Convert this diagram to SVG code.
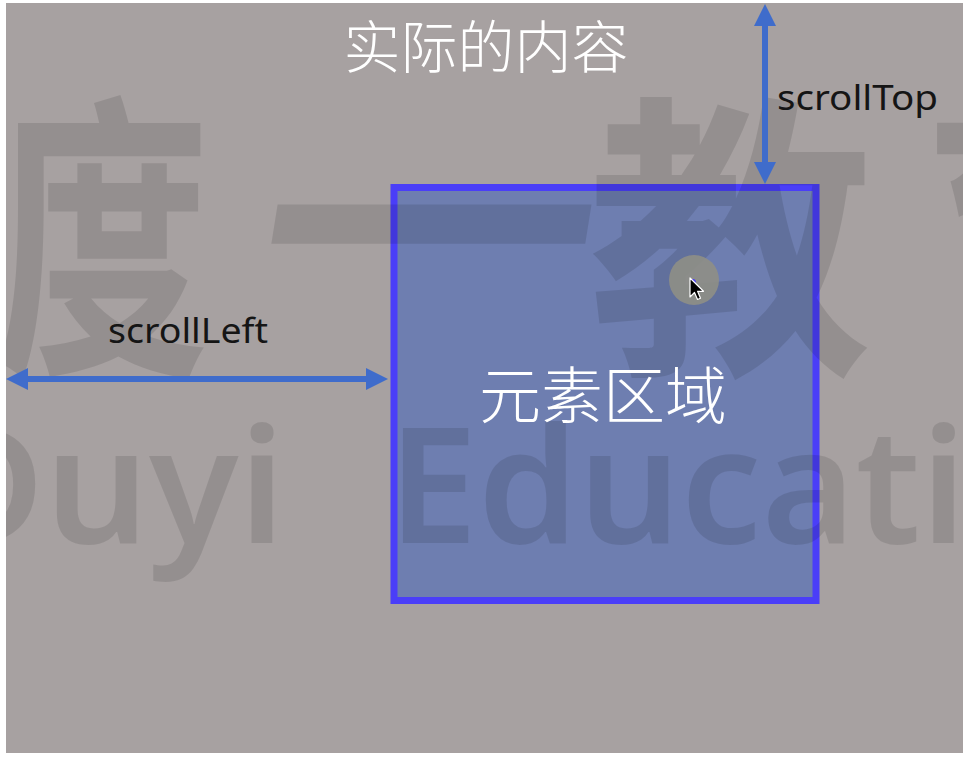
<svg xmlns="http://www.w3.org/2000/svg" width="969" height="761" viewBox="0 0 969 761">
  <defs>
    <style>
      .wm-cjk { font-family: "Noto Sans CJK SC", sans-serif; font-weight: 700; font-size: 300px; fill: #000; fill-opacity: 0.11; }
      .wm-lat { font-family: "Noto Sans", "Open Sans", "Liberation Sans", sans-serif; font-weight: 600; font-size: 161px; fill: #000; fill-opacity: 0.11; }
      .cjk-white { font-family: "Noto Sans CJK SC", sans-serif; font-weight: 300; fill: #ffffff; text-anchor: middle; }
      .label { font-family: "Noto Sans", "Open Sans", "Liberation Sans", sans-serif; font-size: 34px; fill: #151515; }
      .arrow { stroke: #3f6ccb; stroke-width: 6; fill: none; marker-start: url(#head); marker-end: url(#head); }
    </style>
    <marker id="head" viewBox="0 0 22 22" refX="12" refY="11" markerWidth="22" markerHeight="22" markerUnits="userSpaceOnUse" orient="auto-start-reverse">
      <path d="M0,0 L22,11 L0,22 z" fill="#3f6ccb"/>
    </marker>
    <clipPath id="bgclip">
      <rect x="6" y="3" width="957" height="750"/>
    </clipPath>
  </defs>

  <rect width="969" height="761" fill="#ffffff"/>
  <rect id="background" x="6" y="3" width="957" height="750" fill="#a7a1a1"/>

  <g id="element-area">
    <rect x="394" y="187.5" width="422" height="413" fill="#6e7eb0" stroke="#4a3ef8" stroke-width="7"/>
  </g>

  <g id="watermark" clip-path="url(#bgclip)">
    <text class="wm-cjk" transform="translate(-6,352) scale(0.72,1)">度</text>
    <text class="wm-cjk" transform="translate(243,341) scale(1.13,1) skewX(-8)">一</text>
    <text class="wm-cjk" transform="translate(588,352) scale(0.95,1)">教</text>
    <text class="wm-cjk" transform="translate(925,352) scale(0.72,1)">育</text>
    <text class="wm-lat" x="-75" y="543" textLength="360" lengthAdjust="spacingAndGlyphs">Duyi</text>
    <text class="wm-lat" x="388" y="543" textLength="780" lengthAdjust="spacingAndGlyphs">Education</text>
  </g>

  <g id="content-title">
    <text class="cjk-white" x="486" y="68" font-size="57">实际的内容</text>
  </g>

  <g id="element-label">
    <text class="cjk-white" x="603" y="419" font-size="62">元素区域</text>
  </g>

  <g id="connectors">
    <line class="arrow" x1="765" y1="14" x2="765" y2="174"/>
    <line class="arrow" x1="16" y1="379" x2="378" y2="379"/>
  </g>

  <g id="scrolltop-label">
    <text class="label" x="777" y="110" textLength="161" lengthAdjust="spacingAndGlyphs">scrollTop</text>
  </g>
  <g id="scrollleft-label">
    <text class="label" x="108" y="343" textLength="160" lengthAdjust="spacingAndGlyphs">scrollLeft</text>
  </g>

  <g id="cursor">
    <circle cx="694" cy="280" r="25" fill="#8f8f86" fill-opacity="0.9"/>
    <ellipse cx="693" cy="283" rx="3" ry="4" fill="#4a3ef8"/>
    <path d="M690,278 L690,297 L694.5,292.5 L697.5,299.5 L700.5,298.2 L697.6,291.3 L703.5,291.3 Z" fill="#000000" stroke="#ffffff" stroke-width="1.2" stroke-linejoin="round"/>
  </g>
</svg>
